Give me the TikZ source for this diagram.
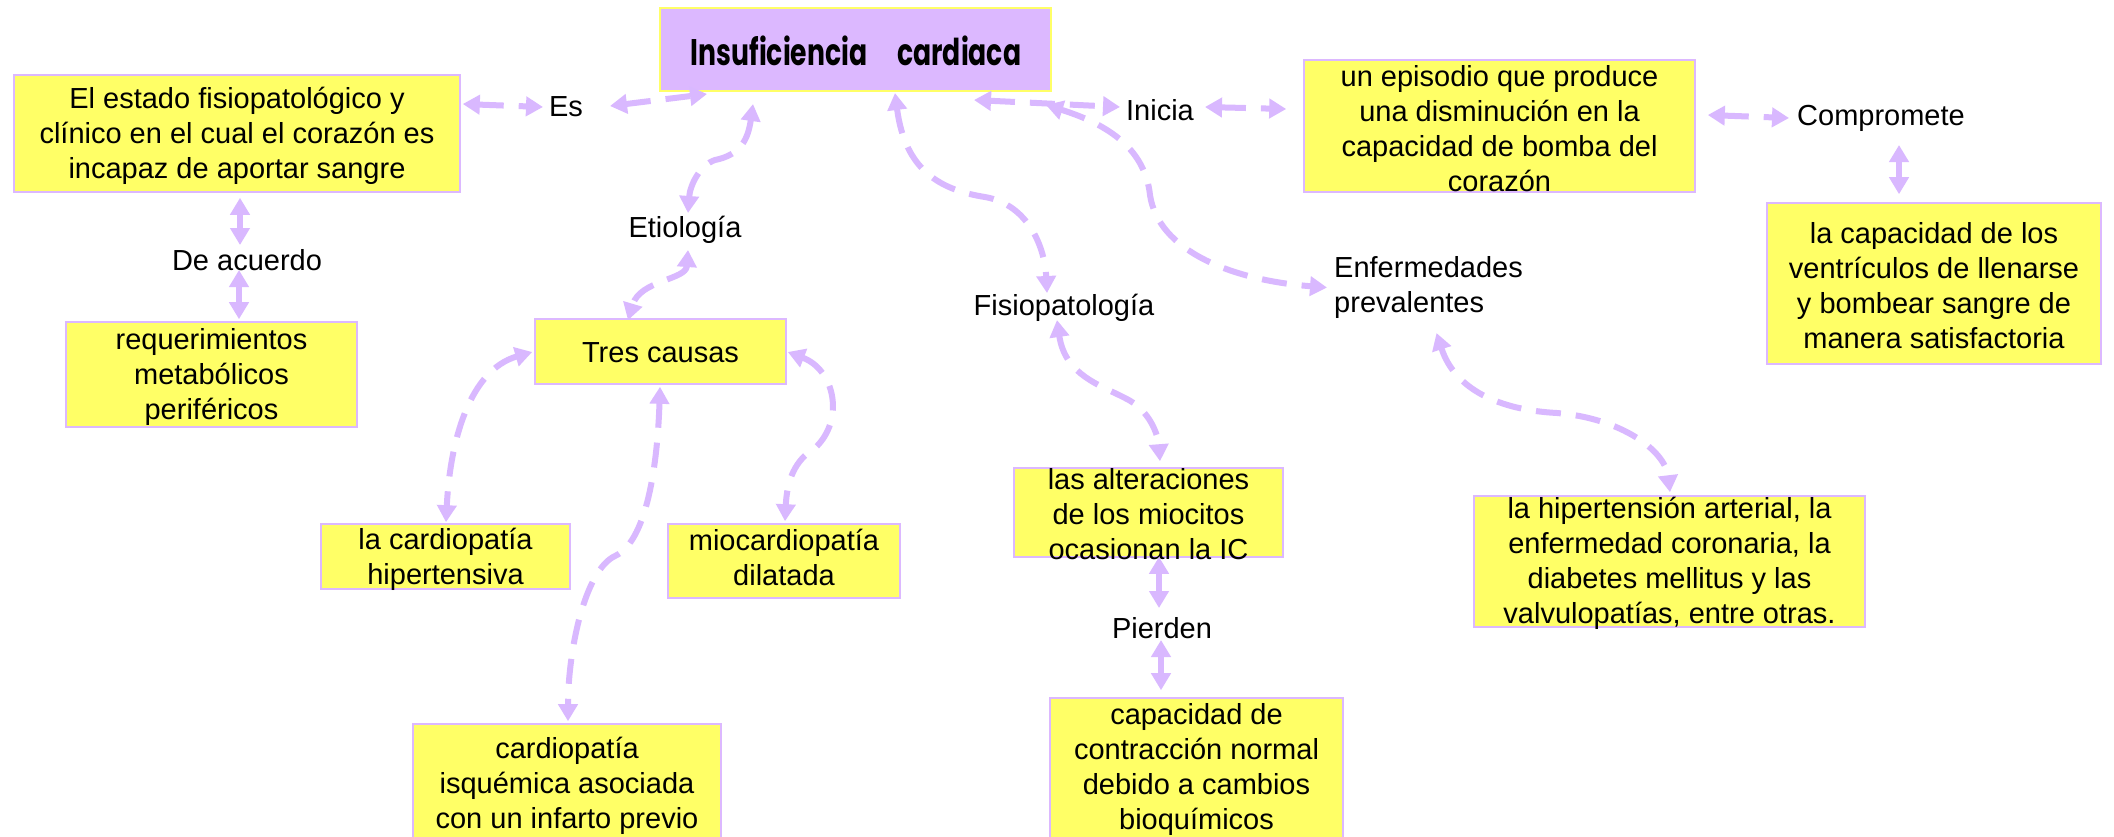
\documentclass[tikz,border=0pt]{standalone}
\usepackage{fontspec}
\setmainfont{Liberation Sans}
\newfontfamily\titlefont{Poppins}[FakeStretch=0.72]
\usetikzlibrary{arrows.meta,calc}
\definecolor{lav}{HTML}{DCB8FF}
\definecolor{arrc}{HTML}{D9B8FF}
\definecolor{yel}{HTML}{FFFF66}
\tikzset{
 box/.style={draw=lav, line width=1.6pt, fill=yel, inner sep=0pt},
 txt/.style={align=center, inner sep=0pt, font=\fontsize{29}{35}\selectfont},
 lbl/.style={inner sep=0pt, font=\fontsize{29}{35}\selectfont},
 conn/.style={draw=arrc, line width=6pt, dash pattern=on 25pt off 15pt,
   {Triangle[length=17pt,width=19pt]}-{Triangle[length=17pt,width=19pt]}},
}
\begin{document}
\begin{tikzpicture}[x=1pt,y=-1pt]
\useasboundingbox (0,0) rectangle (2114,836);
\fill[white] (0,0) rectangle (2114,836);
% title
\node[draw=yel, line width=2pt, fill=lav, minimum width=391pt, minimum height=83pt, inner sep=0pt] (title) at (855.5,49.5) {};
\node[font=\titlefont\bfseries\fontsize{37}{37}\selectfont] at (856,51) {Insuficiencia\hspace{30pt}cardiaca};
% boxes
\node[box, minimum width=446pt, minimum height=117pt] (A) at (237,133.5) {};
\node[txt] at (237,136) {El estado fisiopatológico y\\clínico en el cual el corazón es\\incapaz de aportar sangre};
\node[box, minimum width=291pt, minimum height=105pt] (B) at (211.5,374.5) {};
\node[txt] at (211.5,377) {requerimientos\\metabólicos\\periféricos};
\node[box, minimum width=251pt, minimum height=65pt] (tres) at (660.5,351.5) {};
\node[txt] at (660.5,353) {Tres causas};
\node[box, minimum width=249pt, minimum height=65pt] (hip) at (445.5,556.5) {};
\node[txt] at (445.5,559.5) {la cardiopatía\\hipertensiva};
\node[box, minimum width=232pt, minimum height=74pt] (mio) at (784,561) {};
\node[txt] at (784,557) {miocardiopatía\\dilatada};
\node[box, minimum width=308pt, minimum height=116pt] (isq) at (567,782) {};
\node[txt] at (567,786) {cardiopatía\\isquémica asociada\\con un infarto previo};
\node[box, minimum width=269pt, minimum height=89pt] (alt) at (1148.5,512.5) {};
\node[txt] at (1148.5,514) {las alteraciones\\de los miocitos\\ocasionan la IC};
\node[box, minimum width=293pt, minimum height=142pt] (cap) at (1196.5,769) {};
\node[txt] at (1196.5,769.5) {capacidad de\\contracción normal\\debido a cambios\\bioquímicos};
\node[box, minimum width=391pt, minimum height=132pt] (epi) at (1499.5,126) {};
\node[txt] at (1499.5,129) {un episodio que produce\\una disminución en la\\capacidad de bomba del\\corazón};
\node[box, minimum width=334pt, minimum height=161pt] (vent) at (1934,283.5) {};
\node[txt] at (1934,285.5) {la capacidad de los\\ventrículos de llenarse\\y bombear sangre de\\manera satisfactoria};
\node[box, minimum width=391pt, minimum height=131pt] (hta) at (1669.5,561.5) {};
\node[txt] at (1669.5,563) {la hipertensión arterial, la\\enfermedad coronaria, la\\diabetes mellitus y las\\valvulopatías, entre otras.};
% labels
\node[lbl] (es) at (566,107) {Es};
\node[lbl] (deac) at (247,260) {De acuerdo};
\node[lbl] (etio) at (685,230) {Etiología};
\node[lbl] (fisio) at (1064,308) {Fisiopatología};
\node[lbl] (pier) at (1162,628) {Pierden};
\node[lbl] (ini) at (1160,110) {Inicia};
\node[lbl] (comp) at (1881,118) {Compromete};
\node[lbl, align=left, anchor=west] (enf) at (1334,287.5) {Enfermedades\\prevalentes};
% connectors
\draw[conn] ([shift={(2,-29.5)}]A.east) -- ([shift={(-23,0)}]es.center);
\draw[conn] ([shift={(44,-1)}]es.center) -- ([shift={(-148.5,2)}]title.south);
\draw[conn] ([shift={(3,5)}]A.south) -- ([shift={(-7,-15)}]deac.center);
\draw[conn] ([shift={(-8,10)}]deac.center) -- ([shift={(27.5,-2)}]B.north);
\draw[conn] ([shift={(-102.5,12)}]title.south) .. controls (748,140) and (740,155) .. (715,160) .. controls (700,165) and (690,185) .. ([shift={(3,-17)}]etio.center);
\draw[conn] ([shift={(3,20)}]etio.center) .. controls (686,280) and (640,280) .. ([shift={(-32.5,2)}]tres.north);
\draw[conn] ([shift={(-2,0.5)}]tres.west) .. controls (470,370) and (450,440) .. ([shift={(0.5,-1)}]hip.north);
\draw[conn] ([shift={(-0.5,2)}]tres.south) .. controls (658,450) and (650,540) .. (615,556) .. controls (585,570) and (568,650) .. ([shift={(1,-2)}]isq.north);
\draw[conn] ([shift={(1,0.5)}]tres.east) .. controls (835,370) and (845,420) .. (815,448) .. controls (795,460) and (787,480) .. ([shift={(1,-2)}]mio.north);
\draw[conn] ([shift={(39.5,1)}]title.south) .. controls (905,170) and (940,190) .. (985,197) .. controls (1030,205) and (1045,250) .. ([shift={(-17,-15)}]fisio.center);
\draw[conn] ([shift={(-7,12)}]fisio.center) .. controls (1065,375) and (1100,385) .. (1125,398) .. controls (1150,410) and (1158,435) .. ([shift={(11.5,-6)}]alt.north);
\draw[conn] ([shift={(10.5,-1)}]alt.south) -- ([shift={(-3,-20)}]pier.center);
\draw[conn] ([shift={(-1,12)}]pier.center) -- ([shift={(-35.5,-7)}]cap.north);
\draw[conn] ([shift={(-78,8)}]title.south east) -- ([shift={(-40,-3)}]ini.center);
\draw[conn] ([shift={(45,-3)}]ini.center) -- ([shift={(-17,-17)}]epi.west);
\draw[conn] ([shift={(-6,13)}]title.south east) .. controls (1110,125) and (1145,150) .. (1150,195) .. controls (1158,250) and (1230,280) .. ([shift={(-7,0)}]enf.west);
\draw[conn] ([shift={(8,45.5)}]enf.center) .. controls (1455,390) and (1500,410) .. (1557,413) .. controls (1620,418) and (1665,450) .. ([shift={(0.5,-3)}]hta.north);
\draw[conn] ([shift={(12,-11)}]epi.east) -- ([shift={(-92,0)}]comp.center);
\draw[conn] ([shift={(18,27)}]comp.center) -- ([shift={(-35,-8)}]vent.north);
\end{tikzpicture}
\end{document}
